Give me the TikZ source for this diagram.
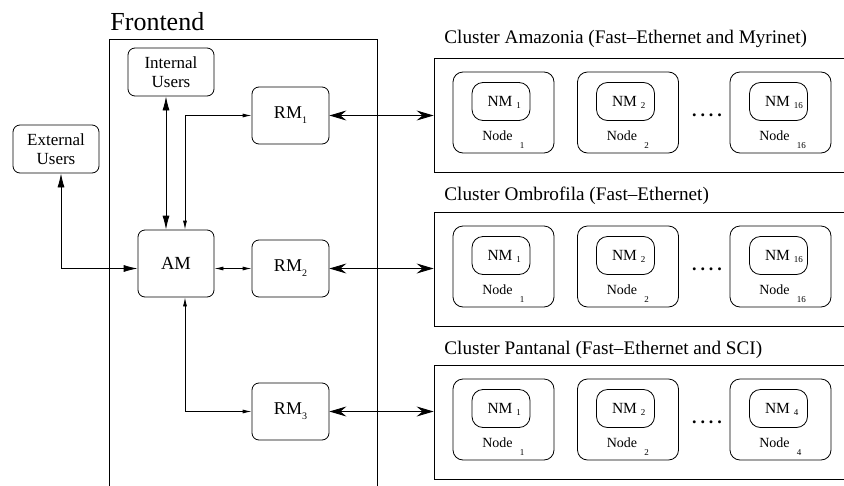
\documentclass[tikz,border=0pt]{standalone}
\usepackage{fontspec}
\setmainfont{Liberation Serif}
\usetikzlibrary{arrows.meta,calc}
\newcommand\myfs[1]{\fontsize{#1}{#1}\selectfont}
\tikzset{
  box/.style={draw, rounded corners=7pt, line width=0.8pt, inner sep=0pt, align=center},
  usersbox/.style={box, minimum width=86pt, minimum height=48pt, font={\myfs{17}}},
  rmbox/.style={box, minimum width=77pt, minimum height=57pt, font={\myfs{18}}},
  clusterbox/.style={draw, line width=0.8pt, minimum width=426pt, minimum height=114pt, inner sep=0pt},
  nodebox/.style={draw, rounded corners=10pt, line width=0.8pt, minimum width=101pt, minimum height=81pt, inner sep=0pt},
  nmbox/.style={draw, rounded corners=11pt, line width=0.8pt, minimum width=58pt, minimum height=38pt, inner sep=0pt},
  txt/.style={inner sep=0pt},
  ctitle/.style={txt, font={\myfs{19.2}}},
  nmtext/.style={txt, font={\myfs{15.5}}},
  nodetext/.style={txt, font={\myfs{14}}},
  subtext/.style={txt, font={\myfs{9}}},
  dotstext/.style={txt, font={\myfs{18}\bfseries}},
  bigboth/.style={{Latex[length=14pt,width=7pt]}-{Latex[length=14pt,width=7pt]}},
  smboth/.style={{Latex[length=9pt,width=4pt]}-{Latex[length=9pt,width=4pt]}},
  stboth/.style={{Stealth[length=17pt,width=10pt,inset=6pt]}-{Stealth[length=17pt,width=10pt,inset=6pt]}},
}
\newcommand\mkcluster[5]{%
  \node[clusterbox] (#1) at (647,{#2+57}) {};
  \node[ctitle, anchor=base west] (#1title) at (444,#5) {#3};
  \foreach \k/\bx/\mx/\sub in {1/503.5/501/1,2/628/625.5/2,3/780.5/778.5/#4}{
    \node[nodebox] (#1node\k) at (\bx,{#2+54.5}) {};
    \node[nmbox] (#1nm\k) at (\mx,{#2+43.5}) {};
    \node[nmtext] (#1nmt\k) at ({\mx-1},{#2+43.5}) {NM};
    \node[subtext, anchor=west] (#1nms\k) at ({\mx+15},{#2+48}) {\sub};
    \node[nodetext] (#1nt\k) at ({\bx-6},{#2+78}) {Node};
    \node[subtext, anchor=west] (#1ns\k) at ({\bx+16},{#2+88}) {\sub};
  }
  \node[dotstext] (#1dots) at (707,{#2+57}) {.\hspace{4pt}.\hspace{4pt}.\hspace{4pt}.};
}
\begin{document}
\begin{tikzpicture}[x=1pt,y=-1pt,line width=0.8pt]
\useasboundingbox (0,0) rectangle (844,485);
% Frontend
\node[draw, line width=0.8pt, minimum width=268pt, minimum height=470pt, inner sep=0pt] (FE) at (243,274) {};
\node[txt, anchor=base west, font={\myfs{26}}] (FEt) at (110,30) {Frontend};
% boxes
\node[usersbox] (IU) at (171,72) {Internal\\[2pt]Users};
\node[usersbox] (EU) at (56,149) {External\\[2pt]Users};
\node[rmbox] (RM1) at (290.5,115.5) {RM\raisebox{-5pt}{\myfs{10}1}};
\node[rmbox] (RM2) at (290.5,268.5) {RM\raisebox{-5pt}{\myfs{10}2}};
\node[rmbox] (RM3) at (290.5,411.5) {RM\raisebox{-5pt}{\myfs{10}3}};
\node[rmbox, minimum width=76pt, minimum height=67pt, font={\myfs{18.5}}] (AM) at (176,263.5) {AM};
% clusters
\mkcluster{CA}{58}{Cluster Amazonia (Fast\textendash Ethernet and Myrinet)}{16}{43}
\mkcluster{CO}{212}{Cluster Ombrofila (Fast\textendash Ethernet)}{16}{200.5}
\mkcluster{CP}{365}{Cluster Pantanal (Fast\textendash Ethernet and SCI)}{4}{354}
% connectors
\coordinate (cA) at (166,0);
\coordinate (cB) at (185,0);
\coordinate (cE) at (61,0);
\draw[bigboth] (IU.south -| cA) -- (AM.north -| cA);
\draw[smboth] (AM.north -| cB) |- (RM1.west);
\draw[bigboth] (EU.south -| cE) |- (AM.west |- RM2.west);
\draw[smboth] (AM.east |- RM2.west) -- (RM2.west);
\draw[smboth] (AM.south -| cB) |- (RM3.west);
\draw[stboth] (RM1.east) -- (RM1.east -| CA.west);
\draw[stboth] (RM2.east) -- (RM2.east -| CO.west);
\draw[stboth] (RM3.east) -- (RM3.east -| CP.west);
\end{tikzpicture}
\end{document}
